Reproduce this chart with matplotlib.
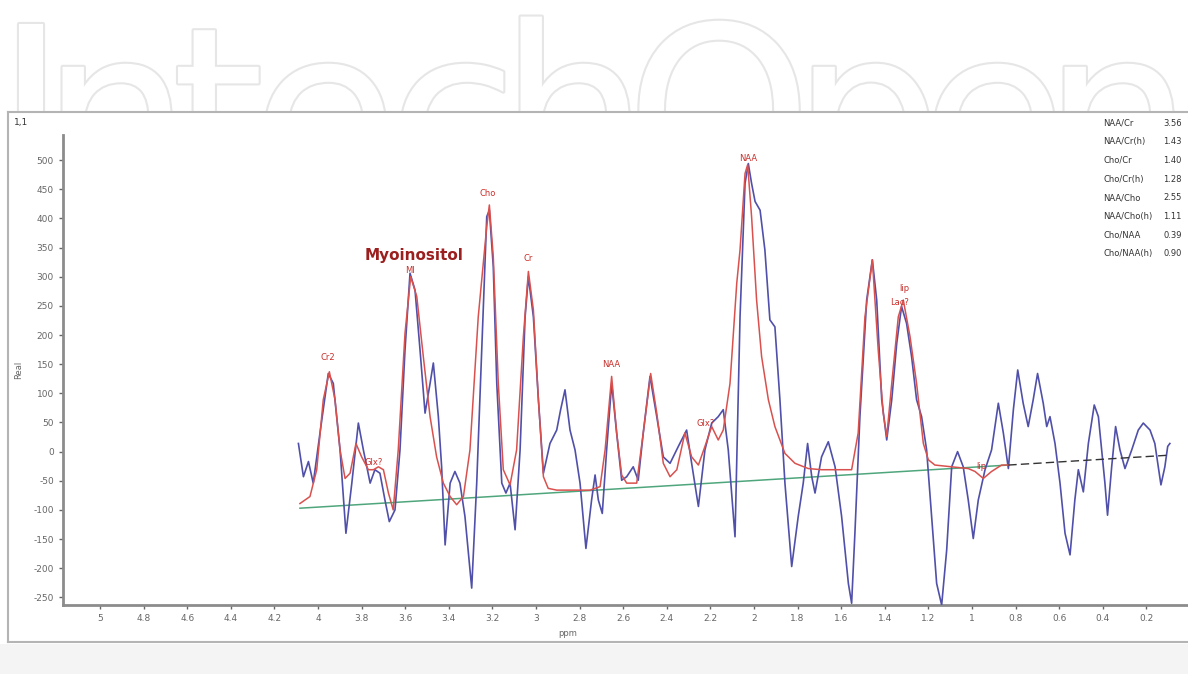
import matplotlib.pyplot as plt
import matplotlib.patheffects as pe
from matplotlib.patches import Rectangle
from matplotlib.ticker import MultipleLocator, FormatStrFormatter
import numpy as np

# measured spectrum (ppm, real part)
spec_ppm = [4.090, 4.067, 4.044, 4.022, 3.991, 3.953, 3.930, 3.899, 3.872, 3.845,
            3.815, 3.792, 3.761, 3.739, 3.716, 3.693, 3.673, 3.647, 3.624, 3.601,
            3.578, 3.555, 3.532, 3.509, 3.486, 3.471, 3.448, 3.433, 3.417, 3.394,
            3.372, 3.349, 3.326, 3.295, 3.272, 3.249, 3.226, 3.214, 3.196, 3.180,
            3.157, 3.138, 3.119, 3.096, 3.073, 3.050, 3.035, 3.012, 2.989, 2.966,
            2.936, 2.905, 2.887, 2.867, 2.844, 2.821, 2.798, 2.771, 2.745, 2.729,
            2.714, 2.696, 2.676, 2.653, 2.630, 2.607, 2.584, 2.554, 2.531, 2.508,
            2.477, 2.446, 2.416, 2.385, 2.347, 2.309, 2.286, 2.255, 2.225, 2.194,
            2.164, 2.141, 2.118, 2.087, 2.064, 2.041, 2.026, 2.011, 1.995, 1.972,
            1.950, 1.927, 1.904, 1.881, 1.858, 1.827, 1.797, 1.774, 1.754, 1.735,
            1.720, 1.690, 1.659, 1.628, 1.598, 1.567, 1.552, 1.537, 1.514, 1.483,
            1.457, 1.437, 1.414, 1.391, 1.368, 1.345, 1.323, 1.300, 1.277, 1.254,
            1.231, 1.208, 1.185, 1.162, 1.139, 1.116, 1.093, 1.066, 1.040, 1.017,
            0.994, 0.971, 0.940, 0.910, 0.879, 0.856, 0.833, 0.810, 0.790, 0.765,
            0.742, 0.719, 0.699, 0.673, 0.657, 0.642, 0.619, 0.596, 0.573, 0.550,
            0.528, 0.512, 0.489, 0.466, 0.439, 0.420, 0.405, 0.390, 0.378, 0.359,
            0.341, 0.321, 0.298, 0.267, 0.237, 0.214, 0.183, 0.161, 0.145, 0.133,
            0.115, 0.102, 0.092]
spec_val = [14, -43, -17, -54, 32, 134, 117, 3, -140, -54,
            49, 3, -54, -31, -37, -83, -120, -100, 3, 174,
            306, 277, 174, 66, 117, 152, 60, -26, -160, -54,
            -34, -54, -111, -234, -54, 174, 403, 414, 317, 117,
            -54, -71, -54, -134, 3, 231, 300, 231, 89, -37,
            14, 37, 72, 106, 37, 3, -54, -166, -83, -40,
            -83, -106, 3, 117, 32, -49, -43, -26, -49, 32,
            129, 60, -9, -20, 9, 37, -20, -94, 3, 49,
            60, 72, 3, -146, 231, 460, 494, 460, 429, 414,
            346, 226, 214, 89, -54, -197, -111, -54, 14, -43,
            -71, -9, 17, -26, -111, -226, -260, -140, 60, 260,
            329, 260, 89, 20, 89, 186, 249, 220, 163, 89,
            60, 3, -111, -226, -263, -169, -26, 0, -26, -83,
            -149, -83, -31, 3, 83, 32, -29, 72, 140, 83,
            43, 89, 134, 83, 43, 60, 14, -54, -140, -177,
            -83, -31, -69, 14, 80, 60, 3, -54, -109, -26,
            43, 3, -29, 3, 37, 49, 37, 14, -26, -57,
            -26, 9, 14]

# fitted model
fit_ppm = [4.083, 4.037, 4.006, 3.976, 3.948, 3.922, 3.899, 3.876, 3.853, 3.826,
           3.800, 3.769, 3.746, 3.723, 3.700, 3.677, 3.655, 3.632, 3.601, 3.575,
           3.547, 3.517, 3.486, 3.456, 3.425, 3.394, 3.364, 3.333, 3.303, 3.265,
           3.226, 3.214, 3.196, 3.173, 3.150, 3.119, 3.089, 3.058, 3.035, 3.012,
           2.989, 2.966, 2.944, 2.905, 2.752, 2.706, 2.683, 2.653, 2.630, 2.607,
           2.584, 2.538, 2.508, 2.474, 2.446, 2.416, 2.385, 2.354, 2.317, 2.286,
           2.255, 2.225, 2.194, 2.164, 2.141, 2.110, 2.079, 2.064, 2.041, 2.029,
           2.011, 1.988, 1.965, 1.934, 1.904, 1.858, 1.812, 1.751, 1.690, 1.552,
           1.522, 1.491, 1.457, 1.430, 1.407, 1.391, 1.368, 1.338, 1.315, 1.284,
           1.254, 1.223, 1.200, 1.170, 1.017, 0.986, 0.948, 0.910, 0.864, 0.833]
fit_val = [-89, -77, -31, 89, 137, 89, 3, -46, -37, 14,
           -9, -31, -31, -26, -31, -71, -100, 3, 203, 300,
           266, 163, 60, -9, -54, -77, -91, -77, 3, 231,
           386, 423, 334, 117, -31, -57, 3, 197, 309, 243,
           89, -43, -63, -66, -66, -60, 3, 129, 32, -40,
           -54, -54, 32, 134, 66, -20, -43, -31, 32, -9,
           -23, 9, 43, 20, 37, 117, 289, 346, 477, 492,
           403, 260, 163, 89, 43, -3, -20, -29, -31, -31,
           32, 231, 329, 174, 66, 26, 117, 231, 260, 197,
           117, 14, -14, -23, -29, -34, -46, -34, -23, -23]

# baseline: fitted part and the tail beyond the fit window
base_ppm = [4.083, 0.833]
base_val = [-97, -23]
tail_ppm = [0.833, 0.092]
tail_val = [-23, -6]

# metabolite labels
peak_names = ["Cr2", "Glx?", "MI", "Cho", "Cr", "NAA", "Glx?", "NAA", "lip", "Lac?", "lip"]
peak_ppm = [3.954, 3.743, 3.578, 3.220, 3.037, 2.656, 2.220, 2.028, 1.312, 1.330, 0.959]
peak_val = [162, -19, 311, 442, 332, 150, 49, 502, 279, 255, -25]

ratio_names = ["NAA/Cr", "NAA/Cr(h)", "Cho/Cr", "Cho/Cr(h)", "NAA/Cho",
               "NAA/Cho(h)", "Cho/NAA", "Cho/NAA(h)"]
ratio_vals = ["3.56", "1.43", "1.40", "1.28", "2.55", "1.11", "0.39", "0.90"]

W, H = 1188, 674
fig = plt.figure(figsize=(W / 100, H / 100), dpi=100)

# publisher watermark behind the panel
wm_letters = list("IntechOpen")
wm_x = [31, 116, 218, 325, 453, 574, 719, 867, 994, 1118]
for ch, x in zip(wm_letters, wm_x):
    fig.text(x / W, 1 - 196 / H, ch, ha="center", va="baseline", fontsize=170,
             color="white", zorder=0,
             path_effects=[pe.withStroke(linewidth=3, foreground="#e6e6e6")])

# light strip under the panel
fig.patches.append(Rectangle((0, 0), 1, 30 / H, transform=fig.transFigure,
                             facecolor="#f4f4f4", edgecolor="none", zorder=1))

# white panel with grey frame
panel = fig.add_axes([8 / W, 1 - 642 / H, 1.05, 530 / H])
panel.set_facecolor("white")
panel.set_xticks([])
panel.set_yticks([])
for s in panel.spines.values():
    s.set_color("#b4b4b4")
    s.set_linewidth(1.5)
panel.set_zorder(2)

ax = fig.add_axes([63 / W, 1 - 605 / H, 1152 / W, 470 / H])
ax.set_zorder(3)
ax.patch.set_alpha(0)

ax.plot(spec_ppm, spec_val, color="#5050aa", lw=1.2, zorder=3)
ax.plot(fit_ppm, fit_val, color="#d9514e", lw=1.1, zorder=4)
ax.plot(base_ppm, base_val, color="#4fa67c", lw=1.1, zorder=2)
ax.plot(tail_ppm, tail_val, color="#333333", lw=1.0, ls=(0, (6, 3)), zorder=5)

for name, x, y in zip(peak_names, peak_ppm, peak_val):
    ax.text(x, y, name, ha="center", va="center", fontsize=6, color="#c8302c", zorder=6)
ax.text(3.560, 337, "Myoinositol", ha="center", va="center", fontsize=11,
        fontweight="bold", color="#9c1f1f", zorder=6)

ax.set_xlim(5.17, -0.115)
ax.set_ylim(-263, 543)
ax.xaxis.set_major_locator(MultipleLocator(0.2))
ax.xaxis.set_major_formatter(FormatStrFormatter("%g"))
ax.yaxis.set_major_locator(MultipleLocator(50))
ax.yaxis.set_major_formatter(FormatStrFormatter("%g"))
ax.tick_params(labelsize=6.5, colors="#666666", length=3, width=1)
for side in ["top", "right"]:
    ax.spines[side].set_visible(False)
for side in ["left", "bottom"]:
    ax.spines[side].set_color("#8c8c8c")
    ax.spines[side].set_linewidth(2)

fig.text(568 / W, 1 - 633 / H, "ppm", ha="center", va="center", fontsize=6,
         color="#666666", zorder=4)
fig.text(19 / W, 1 - 370 / H, "Real", ha="center", va="center", fontsize=6,
         rotation=90, color="#666666", zorder=4)
fig.text(14 / W, 1 - 123 / H, "1,1", ha="left", va="center", fontsize=6.5,
         color="#333333", zorder=4)

# ratio table in the upper right corner
for i, (n, v) in enumerate(zip(ratio_names, ratio_vals)):
    y = 1 - (123 + i * 18.7) / H
    fig.text(1103 / W, y, n, ha="left", va="center", fontsize=6, color="#333333", zorder=4)
    fig.text(1163 / W, y, v, ha="left", va="center", fontsize=6, color="#333333", zorder=4)

fig.savefig("out.png", dpi=100)
